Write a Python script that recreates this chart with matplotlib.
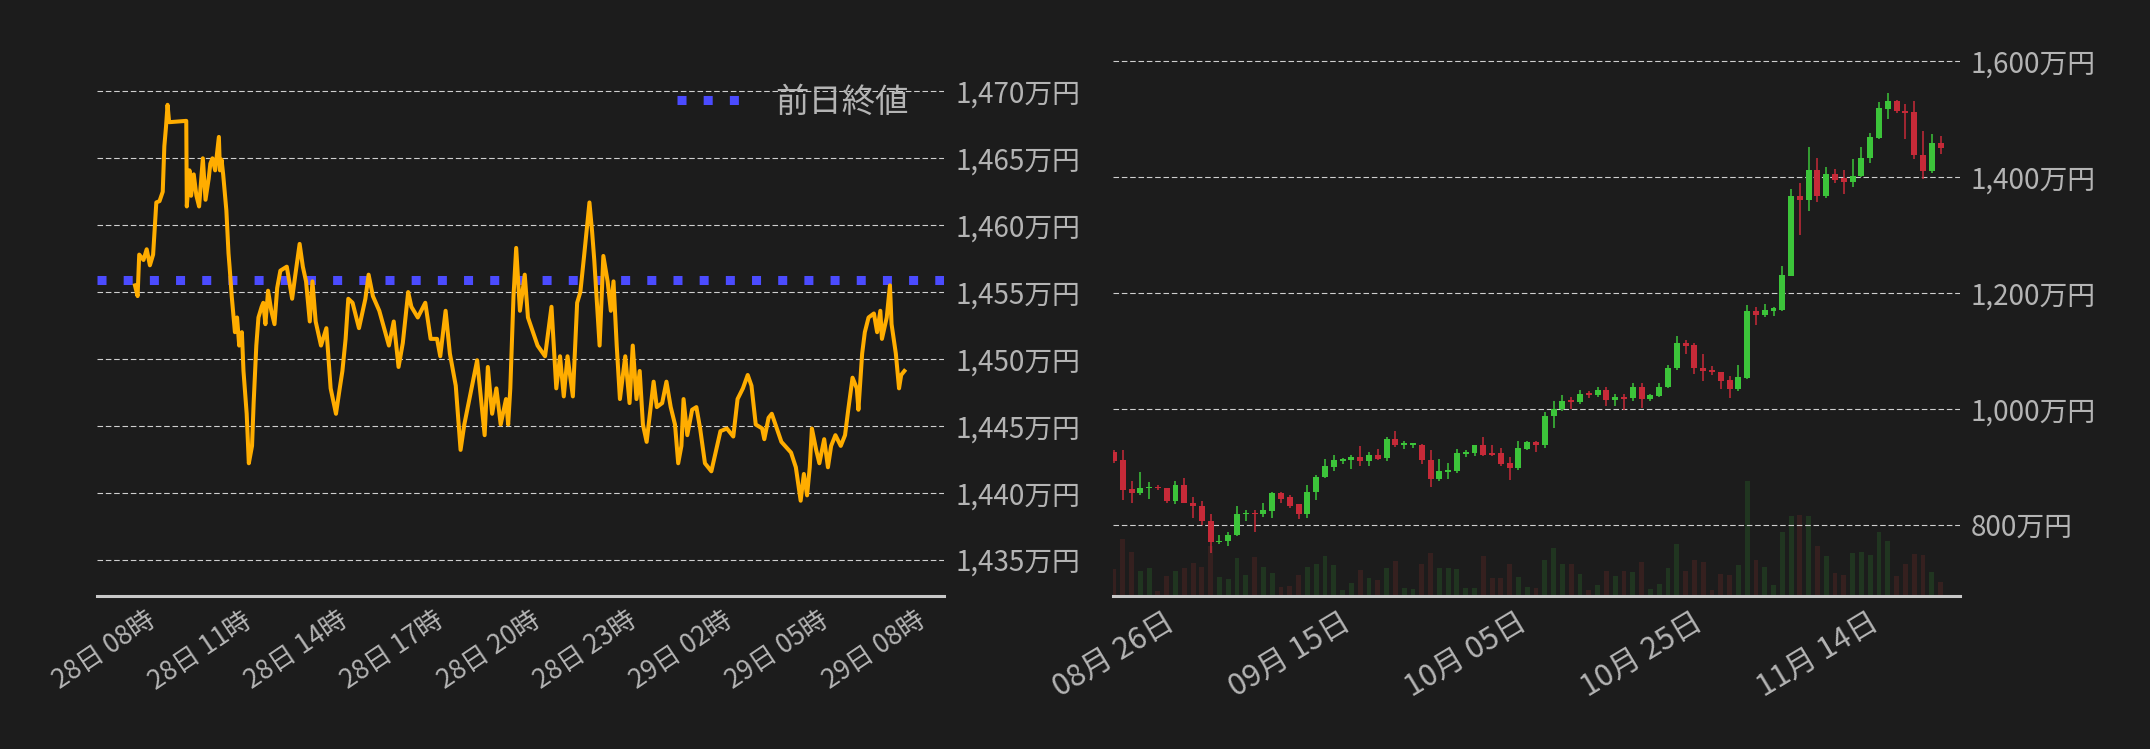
import matplotlib
matplotlib.use('Agg')
import matplotlib.pyplot as plt
import matplotlib.dates as mdates
from matplotlib.ticker import FuncFormatter
import numpy as np
import pandas as pd

plt.rcParams['font.family'] = ['Noto Sans CJK JP', 'DejaVu Sans']

bg = '#1c1c1c'
label_grey = '#b4b4b4'
grid_col = '#cfcfcf'

# intraday: minutes after 28日 08:00, price in 万円
intraday_minutes = [
    58, 63, 66, 74, 80, 86, 92, 98, 104, 110,
    113, 116, 119, 122, 154, 155, 160, 163, 168, 173,
    178, 185, 190, 196, 199, 203, 208, 215, 217, 220,
    223, 229, 233, 235, 239, 245, 249, 253, 258, 261,
    267, 271, 277, 280, 285, 289, 295, 298, 302, 307,
    313, 319, 324, 330, 342, 352, 358, 366, 372, 378,
    385, 390, 396, 406, 416, 424, 434, 441, 446, 452,
    457, 465, 477, 489, 495, 503, 515, 533, 542, 551,
    559, 569, 575, 587, 601, 611, 623, 629, 639, 647,
    658, 667, 674, 682, 698, 712, 718, 726, 734, 742,
    752, 756, 760, 766, 771, 778, 787, 793, 811, 825,
    837, 846, 853, 860, 867, 877, 885, 891, 898, 908,
    913, 917, 927, 934, 942, 948, 953, 959, 965, 975,
    983, 989, 996, 1002, 1008, 1015, 1022, 1028, 1034, 1044,
    1052, 1060, 1068, 1074, 1080, 1084, 1091, 1100, 1108, 1115,
    1124, 1136, 1144, 1153, 1165, 1177, 1185, 1195, 1204, 1211,
    1219, 1231, 1235, 1243, 1249, 1267, 1285, 1294, 1303, 1309,
    1315, 1320, 1324, 1332, 1338, 1347, 1354, 1360, 1368, 1378,
    1386, 1392, 1400, 1408, 1411, 1418, 1423, 1430, 1440, 1446,
    1452, 1455, 1464, 1470, 1473, 1481, 1487, 1491, 1497,
]
intraday_prices = [
    1455.5, 1454.7, 1457.8, 1457.4, 1458.2, 1457.0, 1457.8, 1461.7, 1461.8, 1462.5,
    1465.9, 1467.3, 1469.0, 1467.7, 1467.8, 1461.4, 1464.1, 1462.2, 1463.8, 1462.2,
    1461.4, 1465.0, 1461.9, 1463.5, 1464.6, 1465.0, 1464.1, 1466.6, 1464.1, 1464.9,
    1463.8, 1461.1, 1457.9, 1456.9, 1454.7, 1452.0, 1453.1, 1451.0, 1452.0, 1449.1,
    1445.9, 1442.2, 1443.5, 1446.7, 1451.0, 1453.1, 1453.9, 1454.2, 1452.6, 1455.1,
    1453.6, 1452.6, 1455.3, 1456.6, 1456.9, 1454.5, 1456.3, 1458.6, 1456.9, 1455.8,
    1452.8, 1455.8, 1452.8, 1451.0, 1452.3, 1447.8, 1445.9, 1447.8, 1449.1, 1451.5,
    1454.5, 1454.2, 1452.3, 1454.5, 1456.3, 1454.7, 1453.6, 1451.0, 1452.8, 1449.4,
    1451.2, 1455.0, 1453.9, 1453.1, 1454.2, 1451.5, 1451.5, 1450.2, 1453.6, 1450.4,
    1448.0, 1443.2, 1445.1, 1446.7, 1449.9, 1444.3, 1449.4, 1445.9, 1447.8, 1445.1,
    1447.0, 1445.1, 1447.8, 1454.7, 1458.3, 1453.6, 1456.3, 1453.1, 1451.0, 1450.2,
    1453.9, 1447.8, 1450.2, 1447.2, 1450.2, 1447.2, 1454.2, 1455.0, 1457.7, 1461.7,
    1459.5, 1457.4, 1451.0, 1457.7, 1455.8, 1453.6, 1455.8, 1451.0, 1447.0, 1450.2,
    1446.7, 1451.0, 1447.0, 1449.1, 1445.1, 1443.8, 1446.2, 1448.3, 1446.4, 1446.7,
    1448.3, 1446.4, 1445.1, 1442.2, 1443.5, 1447.0, 1444.3, 1446.2, 1446.4, 1444.8,
    1442.2, 1441.6, 1443.0, 1444.6, 1444.8, 1444.2, 1447.0, 1447.8, 1448.8, 1448.0,
    1445.1, 1444.8, 1444.0, 1445.6, 1445.9, 1443.8, 1443.0, 1441.9, 1439.4, 1441.4,
    1439.8, 1441.9, 1444.8, 1443.2, 1442.2, 1444.0, 1441.9, 1443.5, 1444.3, 1443.5,
    1444.3, 1446.2, 1448.6, 1447.8, 1446.2, 1450.4, 1452.0, 1453.1, 1453.4, 1452.0,
    1453.6, 1451.5, 1453.1, 1455.5, 1452.6, 1450.4, 1447.8, 1448.8, 1449.1,
]
prev_close = 1455.9
prev_close_label = '前日終値'

# daily candles (万円), one per day from 2024-08-26
first_day = '2024-08-26'
opens = [926, 911, 861, 854, 863, 865, 864, 841, 869, 838,
         833, 807, 770, 772, 782, 818, 821, 818, 823, 854,
         847, 835, 819, 856, 882, 899, 910, 911, 916, 910,
         921, 915, 947, 938, 938, 938, 912, 878, 891, 892,
         922, 924, 937, 923, 923, 906, 898, 930, 942, 937,
         987, 1000, 1014, 1012, 1026, 1024, 1033, 1015, 1020, 1018,
         1037, 1017, 1022, 1037, 1070, 1114, 1109, 1071, 1066, 1064,
         1049, 1034, 1053, 1168, 1162, 1169, 1171, 1229, 1366, 1360,
         1411, 1367, 1404, 1397, 1391, 1401, 1432, 1467, 1517, 1530,
         1514, 1511, 1438, 1410, 1458]
highs = [928, 928, 875, 890, 873, 869, 864, 875, 880, 847,
         840, 819, 783, 788, 833, 826, 826, 837, 856, 856,
         852, 835, 869, 885, 913, 921, 915, 921, 935, 925,
         930, 952, 961, 945, 941, 939, 928, 913, 906, 930,
         928, 937, 952, 938, 932, 916, 945, 945, 944, 994,
         1014, 1023, 1021, 1033, 1030, 1037, 1038, 1025, 1026, 1044,
         1045, 1026, 1044, 1075, 1126, 1118, 1114, 1095, 1073, 1064,
         1056, 1075, 1178, 1175, 1180, 1175, 1246, 1378, 1389, 1451,
         1433, 1416, 1414, 1411, 1430, 1451, 1476, 1528, 1544, 1532,
         1526, 1530, 1478, 1473, 1470]
lows = [907, 842, 838, 852, 845, 859, 838, 835, 837, 811,
        799, 751, 767, 763, 780, 806, 787, 814, 811, 837,
        828, 809, 811, 842, 880, 892, 905, 896, 901, 901,
        911, 910, 934, 930, 932, 905, 865, 876, 878, 889,
        917, 919, 919, 918, 902, 877, 894, 928, 925, 932,
        967, 996, 999, 1008, 1018, 1020, 1005, 1005, 998, 1013,
        1001, 1013, 1020, 1036, 1067, 1094, 1060, 1048, 1058, 1034,
        1018, 1030, 1051, 1144, 1158, 1160, 1169, 1228, 1299, 1341,
        1356, 1363, 1389, 1370, 1383, 1400, 1424, 1465, 1499, 1510,
        1465, 1431, 1396, 1406, 1439]
closes = [909, 860, 854, 864, 865, 863, 840, 869, 837, 832,
          806, 770, 772, 783, 819, 821, 818, 825, 854, 845,
          833, 819, 857, 883, 901, 911, 913, 916, 910, 921,
          914, 947, 937, 940, 940, 911, 878, 892, 893, 923,
          925, 937, 921, 921, 904, 898, 932, 942, 937, 988,
          1000, 1014, 1012, 1026, 1024, 1033, 1015, 1020, 1018, 1037,
          1017, 1023, 1038, 1071, 1114, 1108, 1070, 1065, 1063, 1048,
          1034, 1054, 1168, 1162, 1170, 1174, 1230, 1366, 1360, 1411,
          1367, 1404, 1394, 1391, 1402, 1433, 1468, 1518, 1530, 1513,
          1510, 1437, 1410, 1458, 1449]
volumes = [27, 57, 44, 25, 28, 5, 20, 25, 28, 33,
           29, 50, 19, 17, 38, 21, 39, 29, 23, 9,
           10, 21, 29, 32, 40, 31, 6, 13, 26, 18,
           16, 28, 35, 8, 7, 32, 43, 28, 28, 27,
           8, 8, 40, 18, 18, 32, 19, 9, 8, 36,
           48, 32, 32, 22, 6, 11, 25, 20, 25, 24,
           34, 7, 12, 28, 52, 25, 36, 34, 6, 22,
           21, 31, 115, 36, 29, 11, 64, 80, 81, 80,
           50, 40, 23, 21, 43, 44, 41, 64, 55, 20,
           32, 42, 41, 24, 14]

yen_fmt = FuncFormatter(lambda v, pos: f'{v:,.0f}万円')


def style_axis(ax, xsize, xrot):
    for side in ['top', 'left', 'right']:
        ax.spines[side].set_visible(False)
    ax.spines['bottom'].set_color('#c8c8c8')
    ax.spines['bottom'].set_linewidth(2.2)
    ax.yaxis.tick_right()
    ax.yaxis.set_major_formatter(yen_fmt)
    ax.tick_params(axis='y', length=0, pad=8, labelsize=20, labelcolor=label_grey)
    ax.tick_params(axis='x', length=0, pad=8, labelsize=xsize, labelcolor=label_grey,
                   labelrotation=xrot)
    ax.grid(axis='y', color=grid_col, linestyle=(0, (5, 2.5)), linewidth=0.8)
    ax.set_axisbelow(True)


fig = plt.figure(figsize=(21.5, 7.49), dpi=100, facecolor=bg)

# left: 24h line
ax1 = fig.add_axes([0.0451, 0.2047, 0.3942, 0.7018], facecolor=bg)
t0 = pd.Timestamp('2024-11-28 08:00')
times = mdates.date2num((t0 + pd.to_timedelta(intraday_minutes, unit='m')).to_pydatetime())
ax1.plot(times, intraday_prices, color='#ffad00', linewidth=2.9, zorder=3)
ax1.axhline(prev_close, color='#4b4bff', linewidth=6.5, linestyle=(0, (1, 1.9)),
            label=prev_close_label, zorder=2)
ax1.set_xlim(mdates.date2num((t0 - pd.Timedelta(minutes=13)).to_pydatetime()),
             mdates.date2num((t0 + pd.Timedelta(minutes=1572)).to_pydatetime()))
ax1.set_ylim(1432.3, 1471.6)
ax1.set_yticks(range(1435, 1471, 5))
ax1.xaxis.set_major_locator(mdates.HourLocator(byhour=[2, 5, 8, 11, 14, 17, 20, 23]))
ax1.xaxis.set_major_formatter(mdates.DateFormatter('%d日 %H時'))
style_axis(ax1, 19, 34)
ax1.legend(loc='center right', bbox_to_anchor=(0.958, 0.939), frameon=False, fontsize=24,
           handlelength=1.86, handletextpad=1.1, borderpad=0, borderaxespad=0,
           labelcolor=label_grey)

# right: daily candles with volume behind
pos = [0.5177, 0.2043, 0.3937, 0.7423]
axv = fig.add_axes(pos, facecolor=bg)
ax2 = fig.add_axes(pos, sharex=axv, facecolor='none')

days = mdates.date2num(pd.date_range(first_day, periods=len(opens), freq='D').to_pydatetime())
o = np.array(opens, dtype=float)
c = np.array(closes, dtype=float)
up = c >= o
candle_cols = np.where(up, '#3cc43a', '#c62a38')
vol_cols = np.where(up, '#203520', '#35201f')

axv.bar(days, volumes, width=0.55, color=vol_cols, linewidth=0)
axv.set_ylim(0, max(volumes) * 4.83)
for side in axv.spines:
    axv.spines[side].set_visible(False)
axv.tick_params(left=False, labelleft=False, bottom=False, labelbottom=False)

ax2.vlines(days, lows, highs, colors=candle_cols, linewidth=1.1, zorder=3)
body_h = np.maximum(np.abs(c - o), 3)
ax2.bar(days, body_h, bottom=(o + c) / 2 - body_h / 2, width=0.68, color=candle_cols,
        linewidth=0, zorder=4)
ax2.set_xlim(days[0] - 0.1, days[0] + 96.15)
ax2.set_ylim(677.1, 1635.7)
ax2.set_yticks(range(800, 1601, 200))
tick_days = pd.date_range(first_day, periods=5, freq='20D').to_pydatetime()
ax2.set_xticks(mdates.date2num(tick_days))
ax2.xaxis.set_major_formatter(mdates.DateFormatter('%m月 %d日'))
style_axis(ax2, 22, 31)

fig.savefig('out.png', dpi=100, facecolor=bg)
